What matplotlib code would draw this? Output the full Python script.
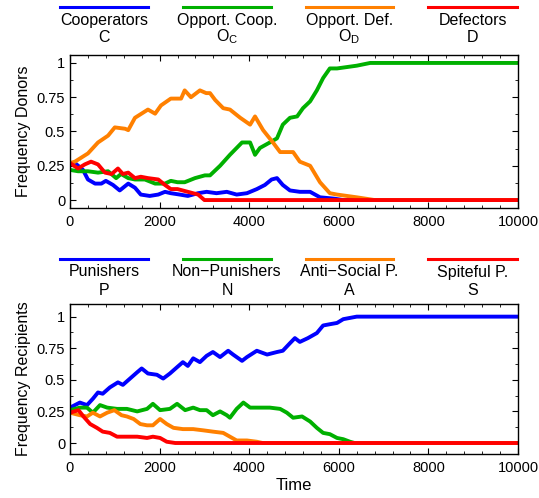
import numpy as np
import matplotlib
matplotlib.use("Agg")
import matplotlib.pyplot as plt
from matplotlib.lines import Line2D

plt.rcParams['font.family'] = ['Liberation Sans', 'DejaVu Sans']
plt.rcParams['mathtext.fontset'] = 'custom'
plt.rcParams['mathtext.rm'] = 'Liberation Sans'

#--------------------------------------------------------------------------------------------------
# Data (time, frequency)
#--------------------------------------------------------------------------------------------------
# Donors
t_coop = [0, 110, 290, 400, 560, 700, 800, 960, 1110, 1300, 1450, 1580, 1780, 1970, 2120, 2250,
          2450, 2630, 2860, 3050, 3270, 3500, 3720, 3950, 4170, 4350, 4500, 4620, 4750, 4910,
          5130, 5360, 5580, 5900, 6100, 10000]
v_coop = [0.26, 0.27, 0.22, 0.15, 0.12, 0.12, 0.14, 0.11, 0.07, 0.12, 0.09, 0.04, 0.03, 0.04,
          0.06, 0.05, 0.04, 0.03, 0.05, 0.06, 0.05, 0.06, 0.04, 0.05, 0.08, 0.11, 0.15, 0.16,
          0.11, 0.07, 0.06, 0.06, 0.02, 0.01, 0.0, 0.0]

t_oppcoop = [0, 180, 400, 625, 850, 1030, 1140, 1300, 1450, 1670, 1900, 2120, 2250, 2400, 2560,
             2790, 3010, 3125, 3350, 3570, 3720, 3840, 4020, 4130, 4240, 4460, 4620, 4750, 4910,
             5070, 5200, 5360, 5510, 5650, 5800, 5960, 6400, 6700, 10000]
v_oppcoop = [0.22, 0.21, 0.21, 0.20, 0.21, 0.16, 0.19, 0.16, 0.15, 0.15, 0.12, 0.12, 0.14, 0.13,
             0.13, 0.16, 0.18, 0.18, 0.25, 0.33, 0.38, 0.42, 0.42, 0.33, 0.38, 0.42, 0.45, 0.55,
             0.60, 0.61, 0.67, 0.72, 0.80, 0.89, 0.96, 0.96, 0.98, 1.0, 1.0]

t_oppdef = [0, 110, 400, 625, 850, 1000, 1230, 1300, 1450, 1740, 1900, 2030, 2250, 2480, 2560,
            2700, 2900, 3040, 3125, 3240, 3420, 3570, 3800, 4020, 4130, 4310, 4530, 4690, 4980,
            5130, 5360, 5580, 5800, 5960, 6400, 6800, 10000]
v_oppdef = [0.27, 0.28, 0.34, 0.42, 0.47, 0.53, 0.52, 0.51, 0.60, 0.66, 0.63, 0.69, 0.74, 0.74,
            0.80, 0.75, 0.80, 0.78, 0.78, 0.73, 0.67, 0.66, 0.60, 0.55, 0.61, 0.51, 0.42, 0.35,
            0.35, 0.28, 0.25, 0.13, 0.05, 0.04, 0.02, 0.0, 0.0]

t_def = [0, 180, 330, 470, 625, 780, 930, 1070, 1180, 1300, 1450, 1580, 1740, 1970, 2120, 2250,
         2400, 2630, 2860, 3000, 10000]
v_def = [0.27, 0.23, 0.26, 0.28, 0.26, 0.20, 0.19, 0.23, 0.19, 0.20, 0.16, 0.17, 0.16, 0.15,
         0.11, 0.08, 0.08, 0.06, 0.04, 0.0, 0.0]

# Recipients
t_pun = [0, 220, 380, 510, 625, 730, 890, 1070, 1180, 1340, 1500, 1600, 1740, 1940, 2080, 2230,
         2390, 2520, 2630, 2750, 2900, 3050, 3190, 3350, 3530, 3640, 3840, 3950, 4170, 4400,
         4620, 4750, 4910, 5020, 5130, 5310, 5510, 5650, 5800, 5960, 6100, 6250, 6400, 10000]
v_pun = [0.28, 0.32, 0.30, 0.35, 0.40, 0.39, 0.44, 0.48, 0.46, 0.51, 0.56, 0.59, 0.55, 0.54,
         0.51, 0.55, 0.60, 0.64, 0.61, 0.67, 0.64, 0.69, 0.72, 0.68, 0.73, 0.70, 0.65, 0.68,
         0.73, 0.70, 0.72, 0.73, 0.79, 0.83, 0.80, 0.83, 0.87, 0.93, 0.94, 0.95, 0.98, 0.99,
         1.0, 1.0]

t_nonpun = [0, 220, 380, 510, 670, 830, 1050, 1270, 1500, 1720, 1850, 2010, 2230, 2390, 2570,
            2750, 2900, 3050, 3190, 3350, 3500, 3570, 3720, 3870, 4020, 4240, 4460, 4690, 4840,
            4980, 5180, 5360, 5510, 5650, 5800, 5960, 6100, 6250, 6350, 10000]
v_nonpun = [0.26, 0.28, 0.28, 0.24, 0.30, 0.28, 0.27, 0.27, 0.25, 0.27, 0.31, 0.26, 0.27, 0.31,
            0.26, 0.28, 0.26, 0.26, 0.22, 0.25, 0.22, 0.20, 0.27, 0.32, 0.28, 0.28, 0.28, 0.27,
            0.24, 0.20, 0.21, 0.17, 0.12, 0.08, 0.07, 0.04, 0.03, 0.01, 0.0, 0.0]

t_anti = [0, 220, 380, 510, 670, 830, 990, 1150, 1270, 1420, 1570, 1720, 1850, 2010, 2160, 2310,
          2520, 2750, 2980, 3190, 3420, 3570, 3720, 3950, 4170, 4300, 10000]
v_anti = [0.24, 0.22, 0.21, 0.24, 0.21, 0.24, 0.26, 0.22, 0.21, 0.19, 0.15, 0.14, 0.14, 0.19,
          0.15, 0.12, 0.11, 0.11, 0.10, 0.09, 0.08, 0.05, 0.02, 0.02, 0.01, 0.0, 0.0]

t_spite = [0, 190, 300, 450, 600, 730, 890, 1050, 1270, 1500, 1720, 1850, 2010, 2160, 2350, 10000]
v_spite = [0.24, 0.26, 0.21, 0.15, 0.12, 0.09, 0.08, 0.05, 0.05, 0.05, 0.04, 0.05, 0.04, 0.01,
           0.0, 0.0]

donorNames = ["Cooperators", "Opport. Coop.", "Opport. Def.", "Defectors"]
donorSymbols = ["C", r"O$_\mathregular{C}$", r"O$_\mathregular{D}$", "D"]
recipNames = ["Punishers", "Non\u2212Punishers", "Anti\u2212Social P.", "Spiteful P."]
recipSymbols = ["P", "N", "A", "S"]

colours = ["#0000ff", "#00b000", "#ff8000", "#ff0000"]

yTicks = [0, 0.25, 0.5, 0.75, 1]
yTickLabels = ["0", "0.25", "0.5", "0.75", "1"]
xTicks = [0, 2000, 4000, 6000, 8000, 10000]


#--------------------------------------------------------------------------------------------------
# Figure
#--------------------------------------------------------------------------------------------------
W, H = 539, 498
fig = plt.figure(figsize=(W / 100, H / 100), dpi=100)

axTop = fig.add_axes([70 / W, 1 - 208 / H, 448 / W, 153 / H])
axBot = fig.add_axes([70 / W, 1 - 454 / H, 448 / W, 150 / H])

donorData = [(t_coop, v_coop), (t_oppcoop, v_oppcoop), (t_oppdef, v_oppdef), (t_def, v_def)]
recipData = [(t_pun, v_pun), (t_nonpun, v_nonpun), (t_anti, v_anti), (t_spite, v_spite)]

for (t, v), c in zip(donorData, colours):
    axTop.plot(t, v, color=c, lw=2.8, solid_joinstyle='round')
for (t, v), c in zip(recipData, colours):
    axBot.plot(t, v, color=c, lw=2.8, solid_joinstyle='round')

axTop.set_ylim(-0.058, 1.058)
axBot.set_ylim(-0.087, 1.1)

for ax in (axTop, axBot):
    ax.set_xlim(0, 10000)
    ax.set_xticks(xTicks)
    ax.set_xticks(np.arange(0, 10001, 400), minor=True)
    ax.set_yticks(yTicks)
    ax.set_yticklabels(yTickLabels)
    ax.set_yticks(np.arange(0, 1.01, 0.125), minor=True)
    ax.tick_params(which='both', direction='in', top=True, right=True, labelsize=10.5)
    ax.tick_params(which='major', length=4, width=0.8)
    ax.tick_params(axis='x', which='major', pad=5)
    ax.tick_params(which='minor', length=2, width=0.6)
    for s in ax.spines.values():
        s.set_linewidth(1.0)

axTop.set_ylabel("Frequency Donors", fontsize=11.5)
axBot.set_ylabel("Frequency Recipients", fontsize=11.5)
axBot.set_xlabel("Time", fontsize=12, labelpad=2)
axTop.yaxis.set_label_coords(-0.088, 0.5)
axBot.yaxis.set_label_coords(-0.088, 0.5)


# Legend-like headers above each panel
lineStarts = [60, 183, 306, 428]
lineEnds = [148, 271, 393, 517]


def DrawHeader(names, symbols, yLine, yName, ySym):
    for i in range(4):
        fig.add_artist(Line2D([lineStarts[i] / W, lineEnds[i] / W], [1 - yLine / H, 1 - yLine / H],
                              color=colours[i], lw=2.2, transform=fig.transFigure))
        xc = (lineStarts[i] + lineEnds[i]) / 2 / W
        fig.text(xc, 1 - yName / H, names[i], ha='center', va='center', fontsize=11.5)
        fig.text(xc, 1 - ySym / H, symbols[i], ha='center', va='center', fontsize=11.5)


DrawHeader(donorNames, donorSymbols, 7, 20, 37)
DrawHeader(recipNames, recipSymbols, 259, 272, 290)

fig.savefig("out.png", dpi=100)
